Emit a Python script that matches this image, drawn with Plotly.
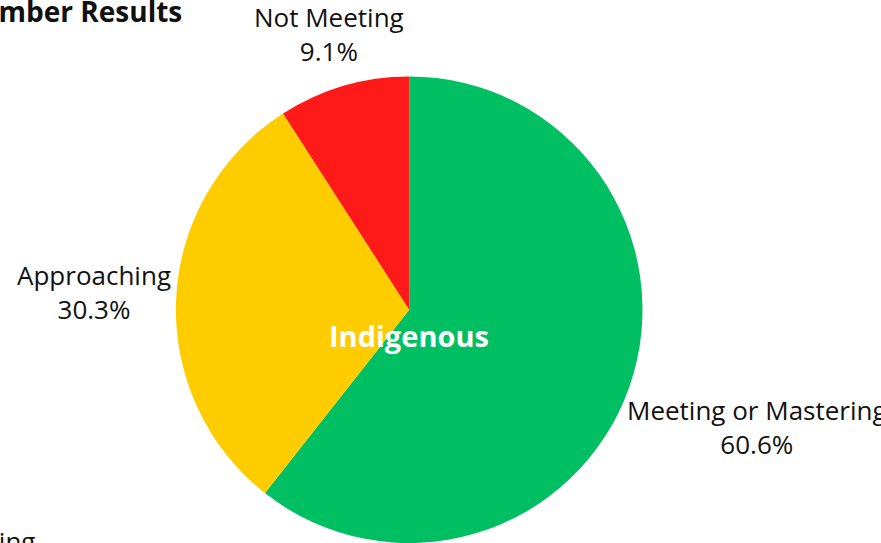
import math
import plotly.graph_objects as go

# Данные
labels = ["Meeting or Mastering", "Approaching", "Not Meeting"]
values = [20, 10, 3]
colors = ["#00BF63", "#FFCC00", "#FF1A1A"]
group_name = "Indigenous"
title_text = "November Results"

W, H = 881, 543
cx, r = 409.2, 233.3
cy = H - r
LABEL_SIZE = 26
GAP = 4

# ширины символов Open Sans Regular (единицы на em = 2048), для размещения подписей
OPEN_SANS_ADV = {
    " ": 532, "A": 1296, "M": 1823, "N": 1530, "a": 1139, "c": 975, "e": 1149,
    "g": 1122, "h": 1257, "i": 518, "n": 1257, "o": 1237, "p": 1255, "r": 836,
    "s": 977, "t": 705, ".": 545, "%": 1700,
}


def text_width(s, size):
    return sum(OPEN_SANS_ADV.get(ch, 1171) for ch in s) / 2048 * size


fig = go.Figure()
fig.add_trace(go.Pie(
    labels=labels,
    values=values,
    sort=False,
    direction="clockwise",
    rotation=0,
    marker=dict(colors=colors, line=dict(width=0)),
    textinfo="none",
    showlegend=False,
    hoverinfo="label+percent",
    domain=dict(x=[0, 2 * cx / W], y=[0, 2 * r / H]),
))

# Подписи снаружи: по направлению середины сектора, вплотную к кругу
total = sum(values)
cum = 0
for lab, v in zip(labels, values):
    mid = (cum + v / 2) / total * 2 * math.pi
    cum += v
    ux, uy = math.sin(mid), -math.cos(mid)
    pct = f"{100 * v / total:.1f}%"
    w = max(text_width(lab, LABEL_SIZE), text_width(pct, LABEL_SIZE))
    h = 2 * 1.05 * LABEL_SIZE
    d = r + GAP + abs(ux) * w / 2 + abs(uy) * h / 2
    fig.add_annotation(
        x=(cx + d * ux) / W, y=1 - (cy + d * uy - 3) / H, xref="paper", yref="paper",
        text=f"{lab}<br>{pct}", showarrow=False, align="center",
        font=dict(family="Open Sans", size=LABEL_SIZE, color="#111111"),
        xanchor="center", yanchor="middle",
    )

# Центр пирога
fig.add_annotation(
    x=cx / W, y=1 - 335 / H, xref="paper", yref="paper",
    text="<b>" + group_name + "</b>", showarrow=False,
    font=dict(family="Open Sans", size=29, color="white"),
    xanchor="center", yanchor="middle",
)

# Заголовок (обрезан слева, как в оригинале)
fig.add_annotation(
    x=184 / W, y=1 + 10 / H, xref="paper", yref="paper",
    text="<b>" + title_text + "</b>", showarrow=False,
    font=dict(family="Open Sans", size=28, color="#111111"),
    xanchor="right", yanchor="top",
)

# Обрезанная подпись внизу слева
fig.add_annotation(
    x=37 / W, y=1 - 521 / H, xref="paper", yref="paper",
    text="Meeting", showarrow=False,
    font=dict(family="Open Sans", size=LABEL_SIZE, color="#111111"),
    xanchor="right", yanchor="top",
)

fig.update_layout(
    width=W, height=H,
    margin=dict(l=0, r=0, t=0, b=0, autoexpand=False),
    paper_bgcolor="white",
    plot_bgcolor="white",
    font=dict(family="Open Sans"),
)

# убираем отступ body по умолчанию, чтобы график начинался с (0, 0)
fig.write_html("out.html", config={"displayModeBar": False},
               post_script="document.body.style.margin='0px';")
